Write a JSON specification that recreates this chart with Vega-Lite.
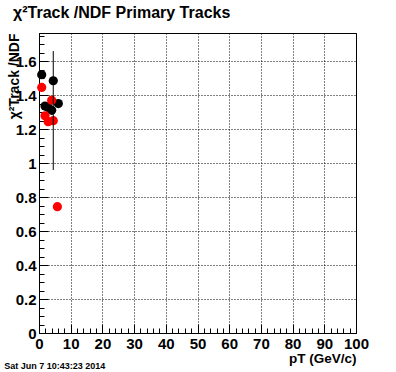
{
  "$schema": "https://vega.github.io/schema/vega-lite/v6.json",
  "width": 317,
  "height": 300,
  "autosize": {"type": "none"},
  "padding": {"left": 39, "top": 33, "right": 40, "bottom": 39},
  "background": "white",
  "title": {
    "text": "χ²Track /NDF  Primary Tracks",
    "anchor": "start",
    "frame": "group",
    "dx": -26,
    "offset": 8,
    "font": "Liberation Sans",
    "fontSize": 16,
    "fontWeight": "bold",
    "color": "black"
  },
  "config": {
    "view": {"stroke": "black", "strokeWidth": 1},
    "axis": {
      "labelFont": "Liberation Sans",
      "labelFontWeight": "bold",
      "labelFontSize": 15,
      "labelColor": "black",
      "titleFont": "Liberation Sans",
      "titleFontWeight": "bold",
      "titleFontSize": 14,
      "titleColor": "black",
      "domainColor": "black",
      "tickColor": "black",
      "gridColor": "black",
      "gridDash": [1, 2],
      "gridWidth": 1,
      "labelOverlap": false,
      "labelFlush": false,
      "grid": true
    }
  },
  "datasets": {
    "points": [
      {"series": "black", "pt": 0.85, "chi2": 1.52},
      {"series": "black", "pt": 1.9, "chi2": 1.335},
      {"series": "black", "pt": 2.9, "chi2": 1.327},
      {"series": "black", "pt": 4.0, "chi2": 1.31},
      {"series": "black", "pt": 4.5, "chi2": 1.484, "lo": 0.959, "hi": 1.659},
      {"series": "black", "pt": 6.1, "chi2": 1.35},
      {"series": "red", "pt": 0.85, "chi2": 1.445},
      {"series": "red", "pt": 1.9, "chi2": 1.278},
      {"series": "red", "pt": 2.9, "chi2": 1.243},
      {"series": "red", "pt": 4.0, "chi2": 1.37},
      {"series": "red", "pt": 4.5, "chi2": 1.249},
      {"series": "red", "pt": 5.8, "chi2": 0.743}
    ],
    "footer": [
      {"pt": -11, "chi2": -0.195, "label": "Sat Jun  7 10:43:23 2014"}
    ]
  },
  "layer": [
    {
      "data": {"name": "points"},
      "mark": {"type": "circle", "size": 85, "opacity": 1},
      "encoding": {
        "x": {
          "field": "pt",
          "type": "quantitative",
          "scale": {"domain": [0, 100], "nice": false, "zero": false},
          "axis": {
            "title": "pT (GeV/c)",
            "titleAnchor": "end",
            "titleAlign": "right",
            "titlePadding": -4,
            "titleFontSize": 13.5,
            "values": [0,2,4,6,8,10,12,14,16,18,20,22,24,26,28,30,32,34,36,38,40,42,44,46,48,50,52,54,56,58,60,62,64,66,68,70,72,74,76,78,80,82,84,86,88,90,92,94,96,98,100],
            "labelExpr": "datum.value % 10 === 0 ? '' + datum.value : ''",
            "tickSize": {"condition": {"test": "datum.value % 10 === 0", "value": -9}, "value": -5},
            "labelPadding": 12,
            "gridOpacity": {"condition": {"test": "datum.value % 10 === 0", "value": 1}, "value": 0}
          }
        },
        "y": {
          "field": "chi2",
          "type": "quantitative",
          "scale": {"domain": [0, 1.765], "nice": false, "zero": false},
          "axis": {
            "title": "χ²Track /NDF",
            "titleAnchor": "end",
            "titlePadding": -6,
            "values": [0,0.05,0.1,0.15,0.2,0.25,0.3,0.35,0.4,0.45,0.5,0.55,0.6,0.65,0.7,0.75,0.8,0.85,0.9,0.95,1,1.05,1.1,1.15,1.2,1.25,1.3,1.35,1.4,1.45,1.5,1.55,1.6,1.65,1.7,1.75],
            "labelExpr": "abs(datum.value*5 - round(datum.value*5)) < 0.001 ? '' + round(datum.value*10)/10 : ''",
            "tickSize": {"condition": {"test": "abs(datum.value*5 - round(datum.value*5)) < 0.001", "value": -9}, "value": -5},
            "labelPadding": 12,
            "gridOpacity": {"condition": {"test": "abs(datum.value*5 - round(datum.value*5)) < 0.001", "value": 1}, "value": 0}
          }
        },
        "color": {
          "field": "series",
          "type": "nominal",
          "scale": {"domain": ["black", "red"], "range": ["#000000", "#ff0000"]},
          "legend": null
        }
      }
    },
    {
      "data": {"name": "points"},
      "transform": [{"filter": "isValid(datum.lo)"}],
      "mark": {"type": "rule", "color": "black", "strokeWidth": 1},
      "encoding": {
        "x": {
          "field": "pt",
          "type": "quantitative",
          "axis": {
            "title": "pT (GeV/c)",
            "titleAnchor": "end",
            "titleAlign": "right",
            "titlePadding": -4,
            "titleFontSize": 13.5,
            "values": [0,2,4,6,8,10,12,14,16,18,20,22,24,26,28,30,32,34,36,38,40,42,44,46,48,50,52,54,56,58,60,62,64,66,68,70,72,74,76,78,80,82,84,86,88,90,92,94,96,98,100],
            "labelExpr": "datum.value % 10 === 0 ? '' + datum.value : ''",
            "tickSize": {"condition": {"test": "datum.value % 10 === 0", "value": -9}, "value": -5},
            "labelPadding": 12,
            "gridOpacity": {"condition": {"test": "datum.value % 10 === 0", "value": 1}, "value": 0}
          }
        },
        "y": {
          "field": "lo",
          "type": "quantitative",
          "axis": {
            "title": "χ²Track /NDF",
            "titleAnchor": "end",
            "titlePadding": -6,
            "values": [0,0.05,0.1,0.15,0.2,0.25,0.3,0.35,0.4,0.45,0.5,0.55,0.6,0.65,0.7,0.75,0.8,0.85,0.9,0.95,1,1.05,1.1,1.15,1.2,1.25,1.3,1.35,1.4,1.45,1.5,1.55,1.6,1.65,1.7,1.75],
            "labelExpr": "abs(datum.value*5 - round(datum.value*5)) < 0.001 ? '' + round(datum.value*10)/10 : ''",
            "tickSize": {"condition": {"test": "abs(datum.value*5 - round(datum.value*5)) < 0.001", "value": -9}, "value": -5},
            "labelPadding": 12,
            "gridOpacity": {"condition": {"test": "abs(datum.value*5 - round(datum.value*5)) < 0.001", "value": 1}, "value": 0}
          }
        },
        "y2": {"field": "hi"}
      }
    },
    {
      "data": {"name": "footer"},
      "mark": {"type": "text", "align": "left", "baseline": "middle", "font": "Liberation Sans", "fontSize": 9, "fontWeight": "bold", "color": "black"},
      "encoding": {
        "x": {
          "field": "pt",
          "type": "quantitative",
          "axis": {
            "title": "pT (GeV/c)",
            "titleAnchor": "end",
            "titleAlign": "right",
            "titlePadding": -4,
            "titleFontSize": 13.5,
            "values": [0,2,4,6,8,10,12,14,16,18,20,22,24,26,28,30,32,34,36,38,40,42,44,46,48,50,52,54,56,58,60,62,64,66,68,70,72,74,76,78,80,82,84,86,88,90,92,94,96,98,100],
            "labelExpr": "datum.value % 10 === 0 ? '' + datum.value : ''",
            "tickSize": {"condition": {"test": "datum.value % 10 === 0", "value": -9}, "value": -5},
            "labelPadding": 12,
            "gridOpacity": {"condition": {"test": "datum.value % 10 === 0", "value": 1}, "value": 0}
          }
        },
        "y": {
          "field": "chi2",
          "type": "quantitative",
          "axis": {
            "title": "χ²Track /NDF",
            "titleAnchor": "end",
            "titlePadding": -6,
            "values": [0,0.05,0.1,0.15,0.2,0.25,0.3,0.35,0.4,0.45,0.5,0.55,0.6,0.65,0.7,0.75,0.8,0.85,0.9,0.95,1,1.05,1.1,1.15,1.2,1.25,1.3,1.35,1.4,1.45,1.5,1.55,1.6,1.65,1.7,1.75],
            "labelExpr": "abs(datum.value*5 - round(datum.value*5)) < 0.001 ? '' + round(datum.value*10)/10 : ''",
            "tickSize": {"condition": {"test": "abs(datum.value*5 - round(datum.value*5)) < 0.001", "value": -9}, "value": -5},
            "labelPadding": 12,
            "gridOpacity": {"condition": {"test": "abs(datum.value*5 - round(datum.value*5)) < 0.001", "value": 1}, "value": 0}
          }
        },
        "text": {"field": "label"}
      }
    }
  ]
}
